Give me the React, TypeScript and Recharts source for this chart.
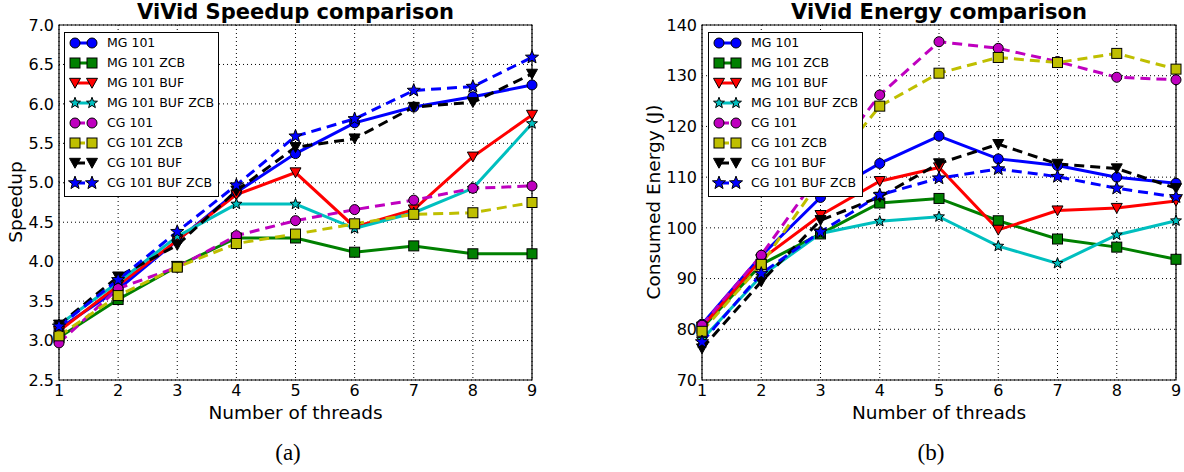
import React from "react";
import { LineChart, Line, XAxis, YAxis, CartesianGrid, ReferenceArea } from "recharts";

// x values (number of threads)
const threads = [1, 2, 3, 4, 5, 6, 7, 8, 9];

const seriesNames = [
  "MG 101",
  "MG 101 ZCB",
  "MG 101 BUF",
  "MG 101 BUF ZCB",
  "CG 101",
  "CG 101 ZCB",
  "CG 101 BUF",
  "CG 101 BUF ZCB",
];

// speedup (a)
const speedMg101 = [3.15, 3.65, 4.27, 4.88, 5.37, 5.76, 5.96, 6.09, 6.24];
const speedMg101Zcb = [3.04, 3.52, 3.94, 4.3, 4.3, 4.12, 4.2, 4.1, 4.1];
const speedMg101Buf = [3.12, 3.7, 4.27, 4.85, 5.13, 4.44, 4.66, 5.33, 5.86];
const speedMg101BufZcb = [3.2, 3.74, 4.32, 4.73, 4.73, 4.42, 4.62, 4.93, 5.75];
const speedCg101 = [2.97, 3.66, 3.93, 4.33, 4.52, 4.66, 4.78, 4.93, 4.96];
const speedCg101Zcb = [3.06, 3.57, 3.93, 4.23, 4.35, 4.48, 4.6, 4.62, 4.75];
const speedCg101Buf = [3.2, 3.81, 4.21, 4.9, 5.45, 5.56, 5.96, 6.02, 6.38];
const speedCg101BufZcb = [3.18, 3.77, 4.38, 4.97, 5.59, 5.81, 6.17, 6.22, 6.59];

// consumed energy in J (b)
const energyMg101 = [81.0, 94.5, 106.0, 112.7, 118.1, 113.6, 112.3, 110.0, 108.8];
const energyMg101Zcb = [80.2, 92.8, 98.8, 104.9, 105.8, 101.4, 97.8, 96.2, 93.8];
const energyMg101Buf = [80.5, 93.8, 102.5, 109.2, 111.9, 99.6, 103.4, 103.9, 105.3];
const energyMg101BufZcb = [78.0, 90.5, 98.9, 101.3, 102.2, 96.4, 93.0, 98.6, 101.4];
const energyCg101 = [80.8, 94.6, 111.0, 126.2, 136.7, 135.4, 132.8, 129.7, 129.2];
const energyCg101Zcb = [79.6, 92.8, 109.5, 124.0, 130.5, 133.6, 132.6, 134.4, 131.3];
const energyCg101Buf = [76.2, 89.4, 101.5, 106.1, 112.7, 116.5, 112.6, 111.7, 107.8];
const energyCg101BufZcb = [77.5, 91.0, 99.2, 106.5, 109.8, 111.6, 110.1, 107.8, 106.1];

const speedTicks = [2.5, 3.0, 3.5, 4.0, 4.5, 5.0, 5.5, 6.0, 6.5, 7.0];
const energyTicks = [70, 80, 90, 100, 110, 120, 130, 140];

type Shape = "circle" | "square" | "triangle" | "star";

const STYLES: { color: string; dashed: boolean; shape: Shape; size: number }[] = [
  { color: "#0000ff", dashed: false, shape: "circle", size: 5 },
  { color: "#008000", dashed: false, shape: "square", size: 5 },
  { color: "#ff0000", dashed: false, shape: "triangle", size: 5.5 },
  { color: "#00bfbf", dashed: false, shape: "star", size: 5 },
  { color: "#bf00bf", dashed: true, shape: "circle", size: 5 },
  { color: "#bfbf00", dashed: true, shape: "square", size: 5 },
  { color: "#000000", dashed: true, shape: "triangle", size: 5.5 },
  { color: "#0000ff", dashed: true, shape: "star", size: 6 },
];

const speedSeries = [
  speedMg101, speedMg101Zcb, speedMg101Buf, speedMg101BufZcb,
  speedCg101, speedCg101Zcb, speedCg101Buf, speedCg101BufZcb,
];
const energySeries = [
  energyMg101, energyMg101Zcb, energyMg101Buf, energyMg101BufZcb,
  energyCg101, energyCg101Zcb, energyCg101Buf, energyCg101BufZcb,
];

const toRows = (series: number[][]) =>
  threads.map((t, i) => {
    const row: Record<string, number> = { t };
    series.forEach((s, k) => (row["s" + k] = s[i]));
    return row;
  });

const speedData = toRows(speedSeries);
const energyData = toRows(energySeries);

const FONT = "'DejaVu Sans', sans-serif";

function starPoints(cx: number, cy: number, R: number) {
  const r = R * 0.42;
  const pts: string[] = [];
  for (let i = 0; i < 10; i++) {
    const a = -Math.PI / 2 + (i * Math.PI) / 5;
    const rad = i % 2 === 0 ? R : r;
    pts.push(`${cx + rad * Math.cos(a)},${cy + rad * Math.sin(a)}`);
  }
  return pts.join(" ");
}

function Marker({ shape, cx, cy, fill, size }: { shape: Shape; cx: number; cy: number; fill: string; size: number }) {
  const common = { fill, stroke: "#000", strokeWidth: 1 };
  if (shape === "circle") return <circle cx={cx} cy={cy} r={size} {...common} />;
  if (shape === "square")
    return <rect x={cx - size} y={cy - size} width={size * 2} height={size * 2} {...common} />;
  if (shape === "triangle")
    return (
      <polygon
        points={`${cx - size},${cy - size * 0.85} ${cx + size},${cy - size * 0.85} ${cx},${cy + size * 0.95}`}
        {...common}
      />
    );
  return <polygon points={starPoints(cx, cy, size * 1.15)} {...common} />;
}

function Legend({ left, top }: { left: number; top: number }) {
  return (
    <div
      style={{
        position: "absolute",
        left,
        top,
        width: 153,
        paddingBottom: 3,
        border: "1px solid #000",
        background: "#fff",
        fontFamily: FONT,
        fontSize: 12.5,
      }}
    >
      {seriesNames.map((name, k) => {
        const st = STYLES[k];
        return (
          <div key={name} style={{ height: 20, position: "relative" }}>
            <svg width={40} height={20} style={{ position: "absolute", left: 0, top: 0 }}>
              <line
                x1={10}
                y1={10}
                x2={27}
                y2={10}
                stroke={st.color}
                strokeWidth={3}
                strokeDasharray={st.dashed ? "10 6" : undefined}
              />
              <Marker shape={st.shape} cx={10} cy={10} fill={st.color} size={st.size} />
              <Marker shape={st.shape} cx={27} cy={10} fill={st.color} size={st.size} />
            </svg>
            <span style={{ position: "absolute", left: 42, top: 2, lineHeight: "15px", whiteSpace: "nowrap" }}>
              {name}
            </span>
          </div>
        );
      })}
    </div>
  );
}

interface PanelProps {
  left: number;
  data: Record<string, number>[];
  ticks: number[];
  yAxisWidth: number;
  width: number;
  fmt: (v: number) => string;
}

function Panel({ left, data, ticks, yAxisWidth, width, fmt }: PanelProps) {
  const y0 = ticks[0];
  const y1 = ticks[ticks.length - 1];
  return (
    <div style={{ position: "absolute", left, top: 0 }}>
      <LineChart width={width} height={400} data={data} margin={{ top: 25, right: 8, bottom: 0, left: 0 }}>
        <XAxis
          dataKey="t"
          type="number"
          domain={[1, 9]}
          ticks={threads}
          tickSize={0}
          tickMargin={5}
          height={20}
          axisLine={false}
          tick={{ fill: "#000", fontSize: 16, fontFamily: FONT }}
        />
        <YAxis
          type="number"
          domain={[y0, y1]}
          ticks={ticks}
          tickFormatter={fmt}
          width={yAxisWidth}
          tickSize={0}
          tickMargin={5}
          axisLine={false}
          tick={{ fill: "#000", fontSize: 16, fontFamily: FONT }}
        />
        {STYLES.map((st, k) => (
          <Line
            key={k}
            dataKey={"s" + k}
            name={seriesNames[k]}
            stroke={st.color}
            strokeWidth={3}
            strokeDasharray={st.dashed ? "10 6" : undefined}
            isAnimationActive={false}
            activeDot={false}
            dot={(p: any) => (
              <Marker key={p.index} shape={st.shape} cx={p.cx} cy={p.cy} fill={st.color} size={st.size} />
            )}
          />
        ))}
        <CartesianGrid stroke="#000" strokeDasharray="1 3" strokeWidth={1} />
        <ReferenceArea x1={1} x2={9} y1={y0} y2={y1} fill="none" stroke="#000" strokeWidth={1.2} />
      </LineChart>
    </div>
  );
}

const abs = (style: React.CSSProperties): React.CSSProperties => ({ position: "absolute", ...style });

export default function App() {
  return (
    <div style={{ position: "absolute", left: 0, top: 0, width: 1184, height: 472, background: "#fff", overflow: "hidden" }}>
      <Panel left={0} data={speedData} ticks={speedTicks} yAxisWidth={59} width={540} fmt={(v) => v.toFixed(1)} />
      <Panel left={600} data={energyData} ticks={energyTicks} yAxisWidth={102} width={584} fmt={(v) => String(v)} />

      <Legend left={64} top={32} />
      <Legend left={708} top={32} />

      <div style={abs({ left: 59, width: 473, top: 2, textAlign: "center", fontFamily: FONT, fontWeight: "bold", fontSize: 21, lineHeight: "21px", whiteSpace: "nowrap" })}>
        ViVid Speedup comparison
      </div>
      <div style={abs({ left: 702, width: 474, top: 2, textAlign: "center", fontFamily: FONT, fontWeight: "bold", fontSize: 21, lineHeight: "21px", whiteSpace: "nowrap" })}>
        ViVid Energy comparison
      </div>

      <div style={abs({ left: 59, width: 473, top: 403, textAlign: "center", fontFamily: FONT, fontSize: 18.5, lineHeight: "19px" })}>
        Number of threads
      </div>
      <div style={abs({ left: 702, width: 474, top: 403, textAlign: "center", fontFamily: FONT, fontSize: 18.5, lineHeight: "19px" })}>
        Number of threads
      </div>

      <div style={abs({ left: 16 - 100, top: 202 - 10, width: 200, textAlign: "center", transform: "rotate(-90deg)", fontFamily: FONT, fontSize: 18.5, lineHeight: "20px" })}>
        Speedup
      </div>
      <div style={abs({ left: 654 - 100, top: 202 - 10, width: 200, textAlign: "center", transform: "rotate(-90deg)", fontFamily: FONT, fontSize: 18.5, lineHeight: "20px" })}>
        Consumed Energy (J)
      </div>

      <div style={abs({ left: 288 - 30, width: 60, top: 441, textAlign: "center", fontFamily: "'Liberation Serif', serif", fontSize: 23, lineHeight: "24px" })}>
        (a)
      </div>
      <div style={abs({ left: 931 - 30, width: 60, top: 441, textAlign: "center", fontFamily: "'Liberation Serif', serif", fontSize: 23, lineHeight: "24px" })}>
        (b)
      </div>
    </div>
  );
}
